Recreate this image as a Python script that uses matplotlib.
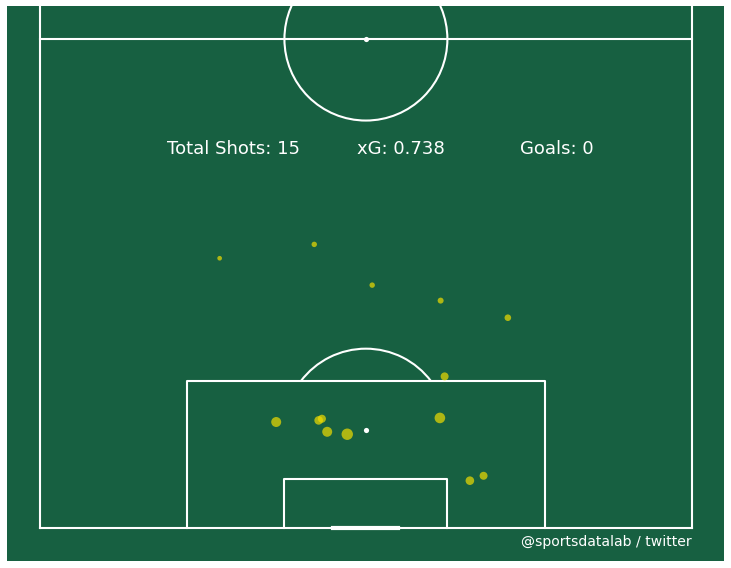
import matplotlib
matplotlib.use("Agg")
import matplotlib.pyplot as plt
from matplotlib.patches import Arc, Rectangle, Circle

# Shot data (StatsBomb coordinates: x along pitch length, y across width)
shot_x = [86.9, 85.2, 90.2, 92.1, 94.2, 101.4, 107.0, 106.8, 106.6, 108.2, 108.5, 106.5, 114.2, 113.6]
shot_y = [22.05, 33.66, 40.77, 49.17, 57.42, 49.66, 28.99, 34.20, 34.60, 35.25, 37.71, 49.08, 52.76, 54.44]
shot_xg = [0.017, 0.023, 0.023, 0.028, 0.034, 0.050, 0.078, 0.058, 0.051, 0.078, 0.102, 0.088, 0.058, 0.050]

total_shots = 15
total_xg = 0.738
goals = 0

pitch_color = "#176041"
line_color = "white"

fig = plt.figure(figsize=(7.31, 5.68), dpi=100)
fig.patch.set_facecolor("white")
ax = fig.add_axes([7 / 731, 7 / 568, 717 / 731, 555 / 568])
ax.set_facecolor(pitch_color)
ax.set_xlim(-4.05, 83.95)
ax.set_ylim(124.05, 55.95)
ax.set_aspect("equal")
ax.axis("off")
ax.add_patch(Rectangle((-10, 40), 110, 100, facecolor=pitch_color, edgecolor="none", zorder=0))

lw = 1.5
kw = dict(color=line_color, lw=lw, zorder=1)
# outline
ax.plot([0, 0], [0, 120], **kw)
ax.plot([80, 80], [0, 120], **kw)
ax.plot([0, 80], [120, 120], **kw)
ax.plot([0, 80], [60, 60], **kw)
# penalty box
ax.plot([18, 18, 62, 62], [120, 102, 102, 120], **kw)
# six yard box
ax.plot([30, 30, 50, 50], [120, 114, 114, 120], **kw)
# goal
ax.plot([36, 44], [120, 120], color=line_color, lw=3, zorder=1)
# centre circle
ax.add_patch(Circle((40, 60), 10, fill=False, edgecolor=line_color, lw=lw, zorder=1))
ax.scatter([40], [60], s=14, color=line_color, zorder=1, linewidths=0)
# penalty spot and arc
ax.scatter([40], [108], s=14, color=line_color, zorder=1, linewidths=0)
ax.add_patch(Arc((40, 108), 20, 20, theta1=180 + 36.87, theta2=360 - 36.87,
                 edgecolor=line_color, lw=lw, zorder=1))

# shots
ax.scatter(shot_y, shot_x, s=[v * 661 for v in shot_xg], color="#f0dc00",
           alpha=0.7, linewidths=0, zorder=3)

# text
ax.text(23.7, 73.5, f"Total Shots: {total_shots}", color="white", fontsize=13,
        ha="center", va="center")
ax.text(44.3, 73.5, f"xG: {total_xg}", color="white", fontsize=13,
        ha="center", va="center")
ax.text(63.4, 73.5, f"Goals: {goals}", color="white", fontsize=13,
        ha="center", va="center")
ax.text(80, 121.7, "@sportsdatalab / twitter", color="white", fontsize=10.1,
        ha="right", va="center")

fig.savefig("out.png", dpi=100, facecolor=fig.get_facecolor())
